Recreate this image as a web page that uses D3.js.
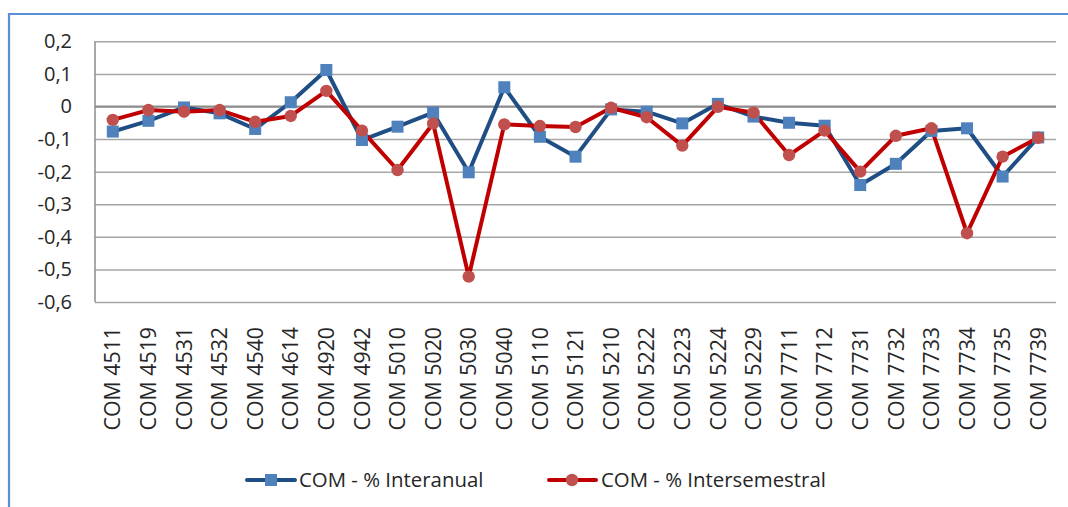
<!DOCTYPE html>
<html><head><meta charset="utf-8">
<script src="https://cdn.jsdelivr.net/npm/d3@7"></script>
<style>
html,body{margin:0;padding:0;background:#fff;}
svg{display:block;}
text{font-family:"Open Sans","Liberation Sans",Arial,sans-serif;fill:#262626;}
</style></head>
<body>
<svg id="chart" width="1068" height="507"></svg>
<script>
const categories = ["COM 4511","COM 4519","COM 4531","COM 4532","COM 4540","COM 4614","COM 4920","COM 4942","COM 5010","COM 5020","COM 5030","COM 5040","COM 5110","COM 5121","COM 5210","COM 5222","COM 5223","COM 5224","COM 5229","COM 7711","COM 7712","COM 7731","COM 7732","COM 7733","COM 7734","COM 7735","COM 7739"];
const interanual = [-0.077,-0.044,-0.003,-0.021,-0.069,0.013,0.112,-0.103,-0.062,-0.019,-0.202,0.059,-0.093,-0.154,-0.009,-0.016,-0.052,0.008,-0.031,-0.050,-0.059,-0.241,-0.176,-0.075,-0.067,-0.215,-0.095];
const intersemestral = [-0.041,-0.011,-0.016,-0.011,-0.047,-0.029,0.048,-0.074,-0.195,-0.052,-0.522,-0.055,-0.060,-0.063,-0.004,-0.033,-0.120,-0.001,-0.019,-0.149,-0.074,-0.200,-0.090,-0.067,-0.389,-0.154,-0.096];
const yTicks = [0.2,0.1,0,-0.1,-0.2,-0.3,-0.4,-0.5,-0.6];
const seriesNames = ["COM - % Interanual","COM - % Intersemestral"];

const FONT = "'Open Sans','Liberation Sans',Arial,sans-serif";
const svg = d3.select("#chart");
const L = 95, R = 1056, T = 41.3, B = 302;

// outer frame
svg.append("path").attr("d","M9,507 V14 H1068").attr("fill","none")
  .attr("stroke","#5a8fd6").attr("stroke-width",2.2);

const x = d3.scaleBand().domain(categories).range([L,R]);
const y = d3.scaleLinear().domain([-0.6,0.2]).range([B,T]);

// gridlines
const grid = svg.append("g").attr("transform",`translate(${L},0)`)
  .call(d3.axisLeft(y).tickValues(yTicks).tickSize(-(R-L)).tickFormat(""));
grid.select(".domain").remove();
grid.selectAll("line").attr("stroke","#a6a6a6").attr("stroke-width",1.5);

// left axis line
svg.append("line").attr("x1",L).attr("x2",L).attr("y1",T).attr("y2",B)
  .attr("stroke","#8c8c8c").attr("stroke-width",1.5);
// zero axis line
svg.append("line").attr("x1",L).attr("x2",R).attr("y1",y(0)).attr("y2",y(0))
  .attr("stroke","#8c8c8c").attr("stroke-width",2);

// y labels
const fmt = v => (v===0 ? "0" : d3.format(".1f")(v).replace(".",",").replace("−","-"));
const ya = svg.append("g").attr("transform",`translate(${L},0)`)
  .call(d3.axisLeft(y).tickValues(yTicks).tickSize(0).tickPadding(23).tickFormat(fmt));
ya.select(".domain").remove();
ya.selectAll("text").attr("font-size",20).attr("fill","#262626").style("font-family",FONT);

// x labels
const xa = svg.append("g").attr("transform",`translate(0,${B})`)
  .call(d3.axisBottom(x).tickSize(0).tickFormat(d=>d));
xa.select(".domain").remove();
xa.selectAll("text")
  .attr("transform","rotate(-90)")
  .attr("x",-25).attr("y",0).attr("dy","0.36em")
  .attr("text-anchor","end")
  .attr("font-size",21.3).attr("fill","#262626").style("font-family",FONT);

const cx = d => x(d) + x.bandwidth()/2;
const line = d3.line().x((d,i)=>cx(categories[i])).y(d=>y(d));

// series 1
svg.append("path").datum(interanual).attr("d",line).attr("fill","none")
  .attr("stroke","#1f4e84").attr("stroke-width",4).attr("stroke-linejoin","round");
// series 2
svg.append("path").datum(intersemestral).attr("d",line).attr("fill","none")
  .attr("stroke","#c00000").attr("stroke-width",4).attr("stroke-linejoin","round");

svg.append("g").selectAll("rect").data(interanual).join("rect")
  .attr("x",(d,i)=>cx(categories[i])-6).attr("y",d=>y(d)-6)
  .attr("width",12).attr("height",12).attr("fill","#4f81bd");
svg.append("g").selectAll("circle").data(intersemestral).join("circle")
  .attr("cx",(d,i)=>cx(categories[i])).attr("cy",d=>y(d))
  .attr("r",6.2).attr("fill","#c0504d");

// legend
const lg = svg.append("g");
const ly = 480;
lg.append("line").attr("x1",247).attr("x2",295).attr("y1",ly).attr("y2",ly)
  .attr("stroke","#1f4e84").attr("stroke-width",4).attr("stroke-linecap","round");
lg.append("rect").attr("x",265).attr("y",ly-6).attr("width",12).attr("height",12).attr("fill","#4f81bd");
lg.append("text").attr("x",299).attr("y",ly).attr("dy","0.36em").attr("font-size",20.4).style("font-family",FONT).text(seriesNames[0]);
lg.append("line").attr("x1",549).attr("x2",596).attr("y1",ly).attr("y2",ly)
  .attr("stroke","#c00000").attr("stroke-width",4).attr("stroke-linecap","round");
lg.append("circle").attr("cx",572).attr("cy",ly).attr("r",6.2).attr("fill","#c0504d");
lg.append("text").attr("x",601).attr("y",ly).attr("dy","0.36em").attr("font-size",20.4).style("font-family",FONT).text(seriesNames[1]);
</script>
</body></html>
